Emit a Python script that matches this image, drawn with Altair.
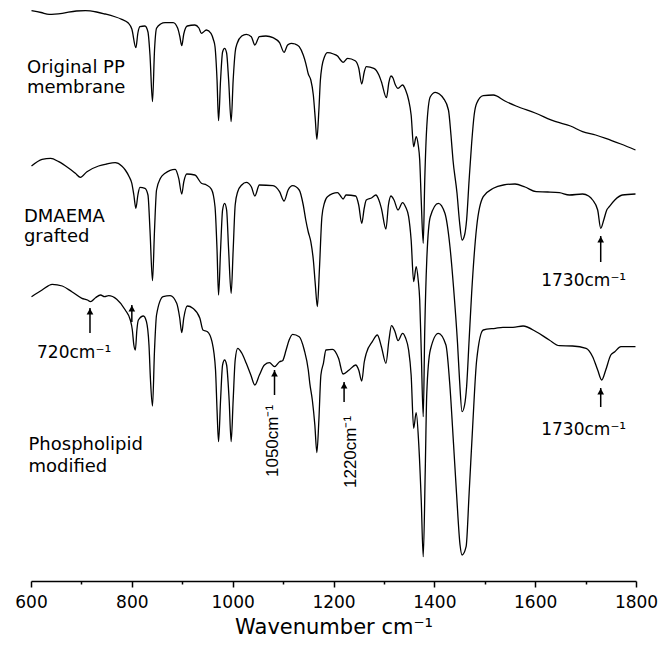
import altair as alt
import pandas as pd

# Wavenumber (cm-1) and vertical reading (picture units, larger = lower) for each spectrum
pp_wn = [601, 620, 636, 662, 690, 708, 730, 747, 765, 780, 793, 800, 808, 812, 816, 826, 832, 836, 841, 845,
         849, 857, 866, 882, 891, 895, 899, 903, 910, 925, 933, 938, 948, 957, 962, 965, 969, 972, 976, 980,
         984, 988, 992, 997, 1001, 1005, 1009, 1018, 1027, 1037, 1044, 1053, 1066, 1080, 1093, 1102, 1109, 1116, 1124, 1132,
         1140, 1145, 1150, 1155, 1160, 1164, 1167, 1171, 1174, 1177, 1182, 1188, 1200, 1208, 1214, 1219, 1228, 1243, 1250, 1256,
         1261, 1265, 1280, 1290, 1295, 1305, 1310, 1314, 1318, 1322, 1328, 1337, 1343, 1349, 1354, 1359, 1364, 1368, 1371, 1374,
         1378, 1381, 1385, 1392, 1402, 1410, 1418, 1428, 1433, 1437, 1445, 1450, 1455, 1460, 1464, 1469, 1474, 1479, 1484, 1497,
         1517, 1540, 1562, 1600, 1641, 1670, 1694, 1720, 1740, 1770, 1799]
pp_t = [10.7, 12.5, 14.3, 13.3, 11, 10.7, 12, 14, 16.5, 19.3, 23, 29, 47.7, 33, 26.7, 26, 32, 55, 101.7, 50,
        28.3, 24, 22.7, 22.7, 28.3, 36, 45.7, 34, 26, 25, 28, 33.3, 30, 33.3, 40, 46.7, 80, 120.7, 80, 52,
        48.3, 53, 80, 121.7, 80, 52, 43.3, 36, 34.3, 36.7, 45, 36.7, 36, 37.7, 42.7, 52.3, 45, 43.3, 44, 46.7,
        55, 63.3, 74, 80, 95, 120, 139.3, 110, 80, 66.7, 57, 52.7, 54, 56, 60, 62.3, 58.3, 60.7, 68, 84,
        72, 66.7, 68.3, 75, 81.7, 97.7, 82, 76, 78, 84, 88.3, 85, 90, 100, 115, 146.7, 136.7, 145, 160, 200,
        243.3, 180, 126.7, 96.7, 92.3, 94, 98.3, 110, 135, 160, 193.3, 222, 240, 235, 220, 180, 143.3, 115, 103.3, 95.7,
        95, 101, 106, 113, 121.7, 126, 131.7, 135, 138.3, 144, 150]

dm_wn = [601, 622, 639, 655, 675, 688, 698, 711, 734, 750, 767, 780, 787, 795, 800, 804, 808, 812, 816, 826,
         832, 836, 841, 845, 849, 857, 866, 886, 893, 899, 903, 909, 925, 938, 948, 958, 965, 969, 972, 976,
         980, 984, 988, 992, 997, 1001, 1005, 1010, 1018, 1027, 1037, 1044, 1053, 1080, 1093, 1102, 1110, 1119, 1132, 1140,
         1145, 1150, 1155, 1160, 1164, 1168, 1172, 1177, 1182, 1188, 1208, 1214, 1219, 1225, 1244, 1250, 1256, 1261, 1265, 1276,
         1284, 1290, 1295, 1304, 1309, 1314, 1320, 1328, 1337, 1343, 1349, 1354, 1359, 1364, 1368, 1371, 1374, 1378, 1381, 1385,
         1392, 1408, 1421, 1431, 1438, 1446, 1450, 1455, 1460, 1464, 1469, 1474, 1484, 1497, 1517, 1537, 1560, 1580, 1602, 1625,
         1648, 1668, 1694, 1706, 1714, 1724, 1730, 1736, 1742, 1747, 1758, 1773, 1799]
dm_t = [166, 159.3, 158.3, 161.7, 168.3, 173.3, 177.3, 171.7, 166, 164, 162.7, 166, 170, 177, 183.3, 195, 208.3, 195, 187.3, 188.3,
        195, 230, 280.7, 230, 190, 178, 173.3, 169.3, 178.3, 194, 182, 174, 175, 183.3, 185, 189.3, 206.7, 250, 295, 250,
        210, 203.3, 210, 250, 293.3, 250, 205, 191.7, 185, 182.3, 186.7, 196, 185, 185.7, 191.7, 201, 190, 185.7, 190, 205,
        220, 232, 241.7, 260, 285, 306.7, 270, 216.7, 203, 196.7, 192.7, 196, 199, 195, 196, 205, 223.3, 208, 200, 197.7,
        195, 200, 208.3, 229, 205, 196, 200, 210, 202.7, 207, 216.7, 240, 281.7, 266.7, 280, 300, 350, 416.7, 330, 260,
        216.7, 203.3, 213.3, 246.7, 286.7, 343.3, 380, 411.7, 405, 386.7, 340, 293.3, 226.7, 196.7, 188.3, 185, 184, 187, 191.7, 192,
        192.7, 195, 194, 196, 200, 210, 228.3, 220, 210, 206.7, 200, 195, 194]

ph_wn = [601, 622, 642, 662, 681, 701, 712, 718, 728, 738, 746, 754, 770, 787, 797, 801, 804, 807, 810, 813,
         823, 829, 834, 837, 841, 845, 849, 862, 876, 889, 895, 899, 903, 910, 921, 935, 941, 950, 959, 966,
         969, 972, 976, 980, 984, 988, 993, 997, 1001, 1005, 1010, 1018, 1027, 1036, 1044, 1053, 1063, 1073, 1083, 1093,
         1099, 1106, 1112, 1119, 1132, 1142, 1150, 1153, 1158, 1163, 1167, 1171, 1175, 1180, 1185, 1198, 1210, 1219, 1231, 1244,
         1250, 1256, 1261, 1265, 1277, 1287, 1295, 1304, 1310, 1315, 1322, 1328, 1337, 1343, 1349, 1354, 1359, 1364, 1369, 1374,
         1378, 1382, 1385, 1392, 1408, 1423, 1431, 1438, 1444, 1451, 1455, 1463, 1469, 1476, 1484, 1497, 1521, 1536, 1556, 1576,
         1602, 1628, 1648, 1674, 1701, 1714, 1724, 1732, 1740, 1750, 1758, 1770, 1799]
ph_t = [296.7, 290, 284.3, 286, 291.7, 298.3, 300, 301.7, 297.7, 295, 296.7, 295.7, 299.3, 310, 320, 330, 345, 350, 330, 320,
        316, 321.7, 345, 380, 406, 350, 315, 296.7, 295.7, 303.3, 318, 332.7, 318, 306, 308.3, 318.3, 330, 331.7, 341.7, 370,
        410, 441.7, 400, 365, 360, 365, 400, 441.6, 400, 360, 348.3, 353, 363.3, 375, 385, 375, 365, 362.7, 366.7, 361.7,
        360.7, 350, 340, 334.3, 336.7, 350, 370, 383.3, 400, 425, 452.6, 420, 375, 363.3, 350, 349.3, 358.3, 374, 370, 365,
        370, 381, 362, 353.3, 341.7, 335, 346.7, 363.3, 340, 325.7, 331.7, 340.7, 333.3, 338, 350, 375, 428.3, 412.7, 443.3, 500,
        556.7, 470, 393.3, 350, 333.3, 345, 386.7, 443.3, 493.3, 545, 555, 546.7, 493.3, 426.7, 360, 330, 328.3, 327.3, 327.3, 326,
        331.7, 340, 345.7, 346, 348.3, 356.7, 370, 380, 370, 355, 351.7, 346.7, 346.7]

# Sample names (two lines each)
name_lines = ["Original PP", "membrane", "DMAEMA", "grafted", "Phospholipid", "modified"]
name_wn = [592, 592, 586, 586, 595, 595]
name_t = [73, 93, 221.7, 242, 450, 472]

# Horizontal peak labels
hlab_text = ["720cm\u207b\u00b9", "1730cm\u207b\u00b9", "1730cm\u207b\u00b9"]
hlab_wn = [612, 1612, 1612]
hlab_t = [358, 286, 435]

# Vertical peak labels
vlab_text = ["1050cm\u207b\u00b9", "1220cm\u207b\u00b9"]
vlab_wn = [1080, 1234]
vlab_t = [477, 488]

# Arrows: wavenumber, tip and tail readings
arrow_wn = [717, 800, 1083, 1221, 1730, 1730]
arrow_tip = [308, 305, 370, 382, 236, 388]
arrow_tail = [333, 322, 395, 402, 262, 407]

spectra = pd.concat([
    pd.DataFrame({"wn": pp_wn, "t": pp_t, "sample": "Original PP membrane"}),
    pd.DataFrame({"wn": dm_wn, "t": dm_t, "sample": "DMAEMA grafted"}),
    pd.DataFrame({"wn": ph_wn, "t": ph_t, "sample": "Phospholipid modified"}),
])

xscale = alt.Scale(domain=[600, 1800], nice=False, zero=False)
yscale = alt.Scale(domain=[8, 581], reverse=True, nice=False, zero=False)

x_axis = alt.Axis(
    values=list(range(600, 1801, 100)),
    labelExpr="datum.value % 200 === 0 ? datum.label : ''",
    format="d",
    labelFlush=False,
    labelOverlap=False,
    tickSize={"condition": {"test": "datum.value % 200 === 0", "value": 6}, "value": 3},
    title="Wavenumber cm\u207b\u00b9",
    grid=False,
)

lines = alt.Chart(spectra).mark_line(color="black", strokeWidth=1.3, interpolate="monotone").encode(
    x=alt.X("wn:Q", scale=xscale, axis=x_axis),
    y=alt.Y("t:Q", scale=yscale, axis=None),
    detail="sample:N",
)

names_df = pd.DataFrame({"wn": name_wn, "t": name_t, "label": name_lines})
names = alt.Chart(names_df).mark_text(
    align="left", baseline="alphabetic", font="DejaVu Sans", fontSize=18, color="black"
).encode(x=alt.X("wn:Q", scale=xscale), y=alt.Y("t:Q", scale=yscale), text="label:N")

hlab_df = pd.DataFrame({"wn": hlab_wn, "t": hlab_t, "label": hlab_text})
hlabs = alt.Chart(hlab_df).mark_text(
    align="left", baseline="alphabetic", font="DejaVu Sans", fontSize=17, color="black"
).encode(x=alt.X("wn:Q", scale=xscale), y=alt.Y("t:Q", scale=yscale), text="label:N")

vlab_df = pd.DataFrame({"wn": vlab_wn, "t": vlab_t, "label": vlab_text})
vlabs = alt.Chart(vlab_df).mark_text(
    align="left", baseline="middle", angle=270, font="Liberation Sans, Arial", fontSize=17, color="black"
).encode(x=alt.X("wn:Q", scale=xscale), y=alt.Y("t:Q", scale=yscale), text="label:N")

arrow_df = pd.DataFrame({"wn": arrow_wn, "tip": arrow_tip, "tail": arrow_tail})
shafts = alt.Chart(arrow_df).mark_rule(color="black", strokeWidth=1.5).encode(
    x=alt.X("wn:Q", scale=xscale), y=alt.Y("tip:Q", scale=yscale), y2="tail:Q"
)
heads = alt.Chart(arrow_df).mark_point(
    shape="triangle-up", filled=True, color="black", size=45, opacity=1, yOffset=3.5
).encode(x=alt.X("wn:Q", scale=xscale), y=alt.Y("tip:Q", scale=yscale))

chart = alt.layer(lines, shafts, heads, names, hlabs, vlabs).properties(
    width=605, height=573,
    autosize=alt.AutoSizeParams(type="none"),
    padding={"left": 23, "top": 0, "right": 22, "bottom": 59},
    background="white",
).configure_view(stroke=None).configure_axis(
    domainColor="black", domainWidth=1.5, tickColor="black", tickWidth=1.5,
    labelFont="DejaVu Sans", labelFontSize=17, labelColor="black", labelPadding=7,
    titleFont="DejaVu Sans", titleFontSize=21, titleFontWeight="normal", titleColor="black", titlePadding=6,
)

chart.save("out.html", embed_options={"renderer": "svg", "actions": False})
